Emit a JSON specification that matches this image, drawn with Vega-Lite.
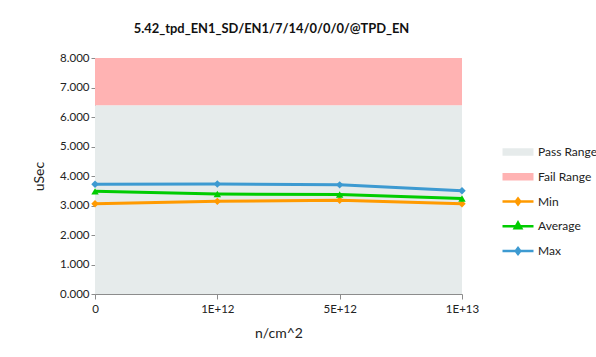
{
  "$schema": "https://vega.github.io/schema/vega-lite/v6.json",
  "autosize": "none",
  "width": 367,
  "height": 236,
  "padding": {"left": 95, "top": 58, "right": 134, "bottom": 63},
  "background": "white",
  "config": {
    "view": {"stroke": null},
    "font": "Lato",
    "axis": {"labelFont": "Lato", "titleFont": "Lato", "labelColor": "#222", "titleColor": "#222", "domainColor": "#8c8c8c", "tickColor": "#8c8c8c", "grid": false, "labelFontSize": 11.5, "titleFontSize": 14, "titleFontWeight": "normal", "labelOverlap": false}
  },
  "title": {"text": "5.42_tpd_EN1_SD/EN1/7/14/0/0/0/@TPD_EN", "font": "Lato", "fontSize": 12.9, "fontWeight": "bold", "color": "#111", "anchor": "middle", "dx": -7, "offset": 16},
  "datasets": {
    "bands": [
      {"series": "Pass Range", "lo": 0, "hi": 6.4},
      {"series": "Fail Range", "lo": 6.4, "hi": 8}
    ],
    "lines": [
      {"fluence": "0", "series": "Min", "value": 3.06},
      {"fluence": "1E+12", "series": "Min", "value": 3.14},
      {"fluence": "5E+12", "series": "Min", "value": 3.18},
      {"fluence": "1E+13", "series": "Min", "value": 3.06},
      {"fluence": "0", "series": "Average", "value": 3.48},
      {"fluence": "1E+12", "series": "Average", "value": 3.39},
      {"fluence": "5E+12", "series": "Average", "value": 3.37},
      {"fluence": "1E+13", "series": "Average", "value": 3.24},
      {"fluence": "0", "series": "Max", "value": 3.72},
      {"fluence": "1E+12", "series": "Max", "value": 3.73},
      {"fluence": "5E+12", "series": "Max", "value": 3.70},
      {"fluence": "1E+13", "series": "Max", "value": 3.50}
    ]
  },
  "layer": [
    {
      "data": {"name": "bands"},
      "mark": {"type": "rect", "opacity": 1},
      "encoding": {
        "y": {"field": "lo", "type": "quantitative", "scale": {"domain": [0, 8], "nice": false},
          "axis": {"title": "uSec", "format": ".3f", "values": [0,1,2,3,4,5,6,7,8], "tickCount": 9, "labelOverlap": false, "tickSize": 4, "labelPadding": 2, "titlePadding": 13}},
        "y2": {"field": "hi"},
        "color": {"field": "series", "type": "nominal"}
      }
    },
    {
      "data": {"name": "lines"},
      "mark": {"type": "line", "strokeWidth": 3},
      "encoding": {
        "x": {"field": "fluence", "type": "ordinal", "sort": ["0", "1E+12", "5E+12", "1E+13"], "scale": {"type": "point", "padding": 0},
          "axis": {"title": "n/cm^2", "labelAngle": 0, "tickSize": 5, "labelPadding": 4, "titlePadding": 12}},
        "y": {"field": "value", "type": "quantitative"},
        "color": {
          "field": "series", "type": "nominal",
          "scale": {"domain": ["Pass Range", "Fail Range", "Min", "Average", "Max"], "range": ["#E6EBEB", "#FFB3B3", "#FF9A00", "#00CC00", "#3D9AD1"]},
          "legend": {
            "title": null, "orient": "none", "legendX": 417, "legendY": 88,
            "labelFont": "Lato", "labelFontSize": 12, "labelColor": "#222",
            "symbolSize": 625, "labelOffset": 14, "rowPadding": 7.75, "labelLimit": 200, "gridAlign": "all",
            "encode": {"symbols": {"update": {
              "shape": {"signal": "datum.value=='Pass Range'||datum.value=='Fail Range' ? 'M-1.24,-0.3H1.24V0.3H-1.24Z' : datum.value=='Average' ? 'M-1.24,0H1.24M0,-0.3L0.26,0.16L-0.26,0.16Z' : 'M-1.24,0H1.24M0,-0.24L0.18,0L0,0.24L-0.18,0Z'"},
              "size": {"value": 625},
              "fill": {"scale": "color", "field": "value"},
              "stroke": {"scale": "color", "field": "value"},
              "strokeWidth": {"signal": "datum.value=='Pass Range'||datum.value=='Fail Range' ? 0 : 2.5"},
              "opacity": {"value": 1},
              "fillOpacity": {"value": 1}
            }}}
          }
        }
      }
    },
    {
      "data": {"name": "lines"},
      "mark": {"type": "point", "filled": true, "size": 55, "opacity": 1},
      "encoding": {
        "x": {"field": "fluence", "type": "ordinal", "sort": ["0", "1E+12", "5E+12", "1E+13"]},
        "y": {"field": "value", "type": "quantitative"},
        "color": {"field": "series", "type": "nominal"},
        "shape": {"field": "series", "type": "nominal", "scale": {"domain": ["Min", "Average", "Max"], "range": ["diamond", "triangle-up", "diamond"]}, "legend": null}
      }
    }
  ]
}
